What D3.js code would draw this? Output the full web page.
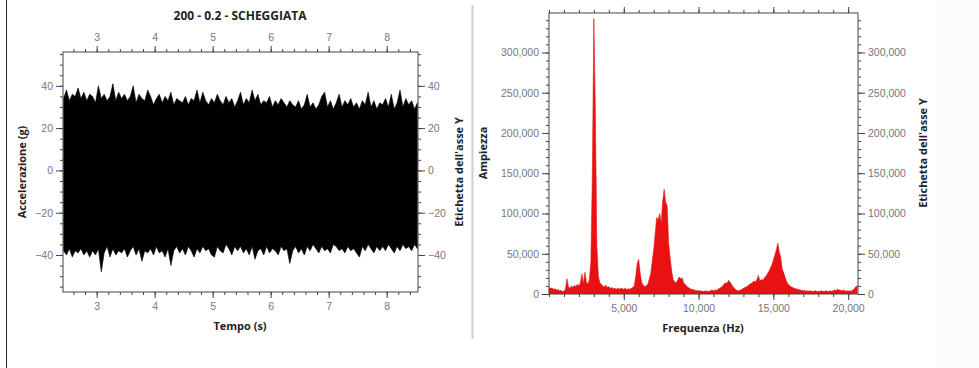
<!DOCTYPE html>
<html>
<head>
<meta charset="utf-8">
<script src="https://cdn.jsdelivr.net/npm/d3@7"></script>
<style>
  body { margin: 0; background: #fff; }
  svg { display: block; font-family: "Open Sans", "Noto Sans", sans-serif; }
  .tick text { fill: #777; font-size: 10.5px; }
  .tick line { stroke: #444; }
  .domain { display: none; }
  .ttl { font-weight: bold; font-size: 11px; fill: #222; }
</style>
</head>
<body>
<svg id="chart" width="979" height="368"></svg>
<script>
// --- time signal (envelope, one value per 0.05 s from 2.43 s)
const tStart = 2.43;
const tStep = 0.05;
const sigUpper = [
  34, 38, 33, 36, 35, 39, 34, 37, 33, 36,
  35, 32, 40, 34, 36, 33, 35, 41, 33, 37,
  34, 36, 33, 35, 40, 32, 36, 34, 33, 38,
  35, 31, 34, 36, 32, 35, 33, 37, 31, 34,
  33, 32, 35, 31, 34, 33, 38, 32, 37, 33,
  31, 34, 32, 36, 33, 31, 35, 32, 34, 30,
  33, 37, 31, 34, 32, 38, 33, 36, 31, 33,
  32, 35, 30, 33, 31, 34, 32, 30, 33, 31,
  30, 33, 29, 31, 36, 30, 32, 29, 31, 35,
  37, 30, 33, 29, 32, 36, 30, 33, 31, 34,
  30, 32, 29, 33, 31, 37, 30, 33, 29, 32,
  31, 34, 30, 36, 29, 32, 38, 30, 34, 31,
  33, 29, 32
];
const sigLower = [
  -38, -40, -37, -41, -38, -39, -37, -40, -38, -41,
  -38, -40, -37, -48, -39, -36, -41, -37, -40, -38,
  -39, -37, -41, -38, -36, -40, -37, -43, -38, -39,
  -37, -40, -36, -39, -38, -41, -37, -45, -38, -36,
  -39, -37, -40, -36, -38, -41, -37, -39, -36, -38,
  -37, -40, -41, -36, -38, -39, -35, -37, -40, -36,
  -38, -36, -39, -37, -40, -36, -42, -38, -37, -40,
  -36, -39, -37, -38, -40, -36, -38, -37, -44, -38,
  -36, -39, -37, -40, -36, -38, -35, -37, -39, -36,
  -38, -37, -39, -35, -36, -38, -37, -39, -36, -38,
  -37, -39, -41, -36, -38, -35, -37, -39, -36, -38,
  -36, -38, -35, -37, -39, -36, -38, -35, -37, -36,
  -38, -35, -37
];
const timeTicks = [3, 4, 5, 6, 7, 8];
const accTicks = [-40, -20, 0, 20, 40];

// --- spectrum (amplitude in thousands, one value per 100 Hz from 0 Hz)
const fStep = 100;
const specAmp = [
  8, 7, 7.5, 6, 6.5, 5, 5.5, 4, 4.5, 3,
  3.5, 6, 19, 9, 7, 10, 8, 11, 9, 12,
  10, 14, 25, 13, 27, 15, 12, 18, 40, 150,
  342, 225, 60, 22, 14, 12, 10, 9, 11, 8,
  9, 7, 8, 6.5, 7, 6, 7.5, 6, 7, 6.5,
  6, 7, 5.5, 6.5, 6, 7, 8, 10, 22, 38,
  43, 25, 14, 11, 9, 10, 12, 18, 25, 40,
  55, 75, 95, 92, 100, 88, 115, 130, 114, 110,
  63, 45, 29, 18, 15, 14, 17, 21, 19, 20,
  14, 12, 10, 8, 7, 6, 5.5, 5, 4.5, 4,
  4.5, 3.5, 4, 3, 3.5, 4, 3, 3.5, 4, 5,
  4, 5, 4.5, 6, 7, 8, 10, 12, 14, 13,
  17, 15, 12, 9, 7, 5, 4.5, 4, 5, 6,
  7, 8, 9, 10, 12, 13, 14, 16, 15, 18,
  23, 16, 18, 17, 20, 22, 25, 28, 32, 36,
  42, 48, 55, 63, 52, 45, 30, 26, 20, 15,
  12, 10, 9, 8, 7, 6.5, 6, 5.5, 5, 4.5,
  4, 4.5, 3.5, 4, 3.5, 4, 3, 3.5, 4, 3,
  3.5, 3, 4, 3.5, 3, 4, 3.5, 3, 4, 3.5,
  4, 5, 4.5, 6, 5, 4.5, 4, 5, 3.5, 4,
  3.5, 4, 3.5, 5, 6, 9, 10
];
const freqTicks = [5000, 10000, 15000, 20000];
const ampTicks = [0, 50000, 100000, 150000, 200000, 250000, 300000];

const svg = d3.select("#chart");

// page decorations
svg.append("rect").attr("x", 937).attr("y", 0).attr("width", 42).attr("height", 368).attr("fill", "#fcfcfc");
svg.append("line").attr("x1", 6.5).attr("x2", 6.5).attr("y1", 0).attr("y2", 368).attr("stroke", "#222");
svg.append("line").attr("x1", 472.5).attr("x2", 472.5).attr("y1", 5).attr("y2", 339).attr("stroke", "#d0d0d0").attr("stroke-width", 2);

const fmt = d3.format(",");

function frame(g, x, y) {
  g.append("rect")
    .attr("x", x.range()[0]).attr("y", y.range()[1])
    .attr("width", x.range()[1] - x.range()[0])
    .attr("height", y.range()[0] - y.range()[1])
    .attr("fill", "none").attr("stroke", "#444");
}

function minorTicks(domain, step) {
  const out = [];
  const s = Math.ceil(domain[0] / step);
  const e = Math.floor(domain[1] / step);
  for (let i = s; i <= e; i++) out.push(+(i * step).toFixed(6));
  return out;
}

function axes(g, x, y, opt) {
  const [x0, x1] = x.range();
  const [y0, y1] = y.range();
  const xm = minorTicks(x.domain(), opt.xMinor);
  const ym = minorTicks(y.domain(), opt.yMinor);

  // minor ticks
  g.append("g").attr("transform", `translate(0,${y0})`).call(d3.axisBottom(x).tickValues(xm).tickSize(3).tickFormat(""));
  g.append("g").attr("transform", `translate(0,${y1})`).call(d3.axisTop(x).tickValues(xm).tickSize(3).tickFormat(""));
  g.append("g").attr("transform", `translate(${x0},0)`).call(d3.axisLeft(y).tickValues(ym).tickSize(3).tickFormat(""));
  g.append("g").attr("transform", `translate(${x1},0)`).call(d3.axisRight(y).tickValues(ym).tickSize(3).tickFormat(""));

  // major ticks
  g.append("g").attr("transform", `translate(0,${y0})`)
    .call(d3.axisBottom(x).tickValues(opt.xTicks).tickSize(6).tickPadding(5).tickFormat(opt.xFmt));
  g.append("g").attr("transform", `translate(0,${y1})`)
    .call(d3.axisTop(x).tickValues(opt.xTicks).tickSize(6).tickPadding(5).tickFormat(opt.topLabels ? opt.xFmt : ""));
  g.append("g").attr("transform", `translate(${x0},0)`)
    .call(d3.axisLeft(y).tickValues(opt.yTicks).tickSize(7).tickPadding(3).tickFormat(opt.yFmt));
  g.append("g").attr("transform", `translate(${x1},0)`)
    .call(d3.axisRight(y).tickValues(opt.yTicks).tickSize(7).tickPadding(3).tickFormat(opt.yFmt));
}

// ================= left: time signal
const xT = d3.scaleLinear().domain([2.42, 8.54]).range([63, 418]);
const yA = d3.scaleLinear().domain([-57.5, 56]).range([292, 52]);

const left = svg.append("g");
left.append("clipPath").attr("id", "clipL").append("rect")
  .attr("x", 63).attr("y", 52).attr("width", 355).attr("height", 240);

const area = d3.area()
  .x((d, i) => xT(tStart + i * tStep))
  .y0((d, i) => yA(sigLower[i]))
  .y1(d => yA(d));

left.append("path")
  .datum(sigUpper)
  .attr("clip-path", "url(#clipL)")
  .attr("fill", "#000")
  .attr("stroke", "#000")
  .attr("stroke-width", 0.6)
  .attr("d", area);

frame(left, xT, yA);
axes(left, xT, yA, {
  xTicks: timeTicks, yTicks: accTicks, xMinor: 0.2, yMinor: 5,
  xFmt: d3.format("d"), yFmt: d => d < 0 ? "\u2212" + Math.abs(d) : d, topLabels: true
});

left.append("text").attr("class", "ttl").attr("x", 240).attr("y", 20)
  .attr("text-anchor", "middle").style("font-size", "12px").text("200 - 0.2 - SCHEGGIATA");
left.append("text").attr("class", "ttl").attr("x", 240).attr("y", 330)
  .attr("text-anchor", "middle").text("Tempo (s)");
left.append("text").attr("class", "ttl").attr("transform", "translate(26,172) rotate(-90)")
  .attr("text-anchor", "middle").text("Accelerazione (g)");
left.append("text").attr("class", "ttl").attr("transform", "translate(463,172) rotate(-90)")
  .attr("text-anchor", "middle").text("Etichetta dell'asse Y");

// ================= right: spectrum
const xF = d3.scaleLinear().domain([0, 20660]).range([549, 858]);
const yS = d3.scaleLinear().domain([0, 349000]).range([294, 13]);

const right = svg.append("g");
right.append("clipPath").attr("id", "clipR").append("rect")
  .attr("x", 549).attr("y", 13).attr("width", 309).attr("height", 281);

const specArea = d3.area()
  .x((d, i) => xF(i * fStep))
  .y0(yS(0))
  .y1(d => yS(d * 1000));

right.append("path")
  .datum(specAmp)
  .attr("clip-path", "url(#clipR)")
  .attr("fill", "#e81212")
  .attr("stroke", "#e81212")
  .attr("stroke-width", 0.6)
  .attr("d", specArea);

frame(right, xF, yS);
axes(right, xF, yS, {
  xTicks: freqTicks, yTicks: ampTicks, xMinor: 1000, yMinor: 10000,
  xFmt: fmt, yFmt: fmt, topLabels: false
});

right.append("text").attr("class", "ttl").attr("x", 703).attr("y", 332)
  .attr("text-anchor", "middle").text("Frequenza (Hz)");
right.append("text").attr("class", "ttl").attr("transform", "translate(487,153) rotate(-90)")
  .attr("text-anchor", "middle").text("Ampiezza");
right.append("text").attr("class", "ttl").attr("transform", "translate(927,153) rotate(-90)")
  .attr("text-anchor", "middle").text("Etichetta dell'asse Y");
</script>
</body>
</html>
